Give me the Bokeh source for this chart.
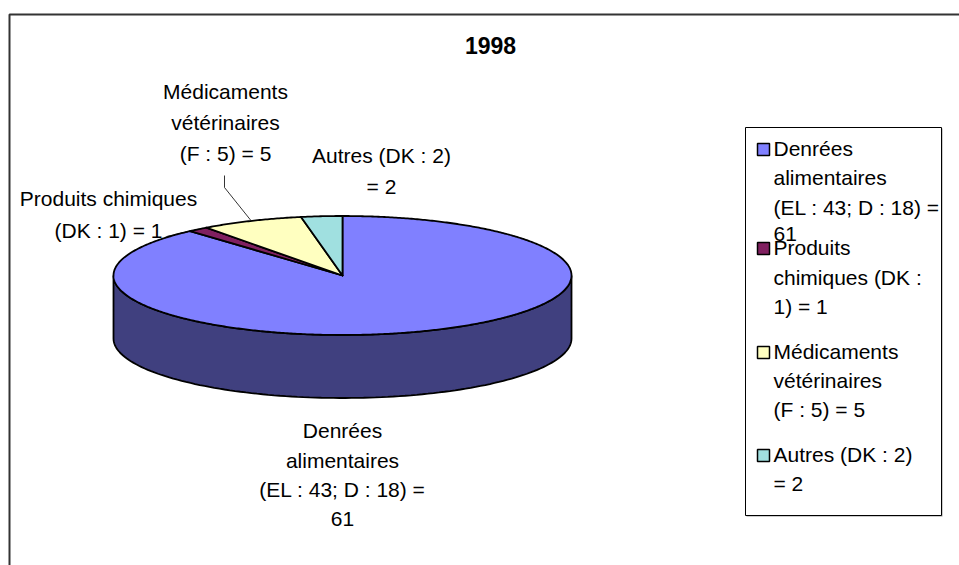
import numpy as np
from bokeh.plotting import figure
from bokeh.models import Range1d
from bokeh.core.properties import value
from bokeh.embed import file_html
from bokeh.resources import INLINE

# ---- data ----
title = "1998"
categories = ["Denrées alimentaires", "Produits chimiques", "Médicaments vétérinaires", "Autres"]
values = [61, 1, 5, 2]
pie_labels = [
    ["Denrées", "alimentaires", "(EL : 43; D : 18) =", "61"],
    ["Produits chimiques", "(DK : 1) = 1"],
    ["Médicaments", "vétérinaires", "(F : 5) = 5"],
    ["Autres (DK : 2)", "= 2"],
]
legend_labels = [
    ["Denrées", "alimentaires", "(EL : 43; D : 18) =", "61"],
    ["Produits", "chimiques  (DK :", "1) = 1"],
    ["Médicaments", "vétérinaires", "(F : 5) = 5"],
    ["Autres (DK : 2)", "= 2"],
]
top_colors = ["#8080FF", "#802060", "#FFFFC0", "#A0E0E0"]
side_colors = ["#40407F", "#401030", "#808060", "#507070"]

# ---- layout (style constants) ----
W, H = 959, 565
CX, CY = 342, 275
RX, RY = 229, 59.5
DEPTH = 63
FONT = value("Liberation Sans")
FS = "21px"
# label anchors (center x, first line y, line spacing)
label_anchor = [(342, 430, 29.5), (108, 198, 32), (225, 91, 31), (381, 155, 31)]
legend_box = (745, 941, 127, 515)
legend_item_y = [[148, 177, 207, 233], [247, 277, 306], [351, 380, 409], [454, 483]]

p = figure(width=W, height=H, x_range=Range1d(0, W), y_range=Range1d(H, 0),
           x_axis_type=None, y_axis_type=None, toolbar_location=None,
           output_backend="svg", min_border=0, outline_line_color=None,
           background_fill_color="white", border_fill_color="white")
p.grid.visible = False

# outer chart border (extends beyond the visible area)
p.line([9, 9, W + 5], [H + 5, 14, 14], line_color="#333333", line_width=2)


def pt(theta_deg, dy=0.0):
    t = np.radians(theta_deg)
    return CX + RX * np.sin(t), CY - RY * np.cos(t) + dy


total = float(sum(values))
bounds = np.concatenate([[0], np.cumsum(values)]) / total * 360.0

# side faces (front half: 90..270 deg clockwise from top)
for i in range(len(values)):
    lo, hi = max(bounds[i], 90.0), min(bounds[i + 1], 270.0)
    if hi > lo:
        ts = np.linspace(lo, hi, 120)
        xt, yt = pt(ts)
        xb, yb = pt(ts[::-1], DEPTH)
        p.patch(list(xt) + list(xb), list(yt) + list(yb), fill_color=side_colors[i],
                line_color="black", line_width=1.8)

# top faces
for i in range(len(values)):
    n = max(int((bounds[i + 1] - bounds[i]) * 2), 4)
    ts = np.linspace(bounds[i], bounds[i + 1], n)
    xs, ys = pt(ts)
    p.patch([CX] + list(xs) + [CX], [CY] + list(ys) + [CY], fill_color=top_colors[i],
            line_color="black", line_width=1.8, line_join="round")

# leader lines
mid = (bounds[:-1] + bounds[1:]) / 2
mx, my = pt(mid[2])
p.line([224, 224, mx], [175, 187, my], line_color="black", line_width=0.8)
mx, my = pt(mid[1])
p.line([166, mx], [236, my], line_color="black", line_width=0.8)

# data labels
for i, lines in enumerate(pie_labels):
    x0, y0, dy = label_anchor[i]
    p.text(x=[x0] * len(lines), y=[y0 + k * dy for k in range(len(lines))], text=lines,
           text_font=FONT, text_font_size=FS, text_align="center", text_baseline="middle",
           text_color="black")

# title
p.text(x=[490], y=[45], text=[title], text_font=FONT, text_font_size="23px",
       text_font_style="bold", text_align="center", text_baseline="middle", text_color="black")

# legend
l, r, t, b = legend_box
p.quad(left=[l + 1], right=[r + 1], top=[t + 1], bottom=[b + 1], fill_color="#999999",
       line_color=None)
p.quad(left=[l], right=[r], top=[t], bottom=[b], fill_color="white", line_color="black",
       line_width=1)
for i, lines in enumerate(legend_labels):
    ys = legend_item_y[i]
    p.rect(x=[763], y=[ys[0] + 1], width=12, height=12, fill_color=top_colors[i],
           line_color="black", line_width=1.5)
    p.text(x=[773] * len(lines), y=ys, text=lines, text_font=FONT, text_font_size=FS,
           text_align="left", text_baseline="middle", text_color="black")

open("out.html", "w").write(file_html(p, INLINE))
